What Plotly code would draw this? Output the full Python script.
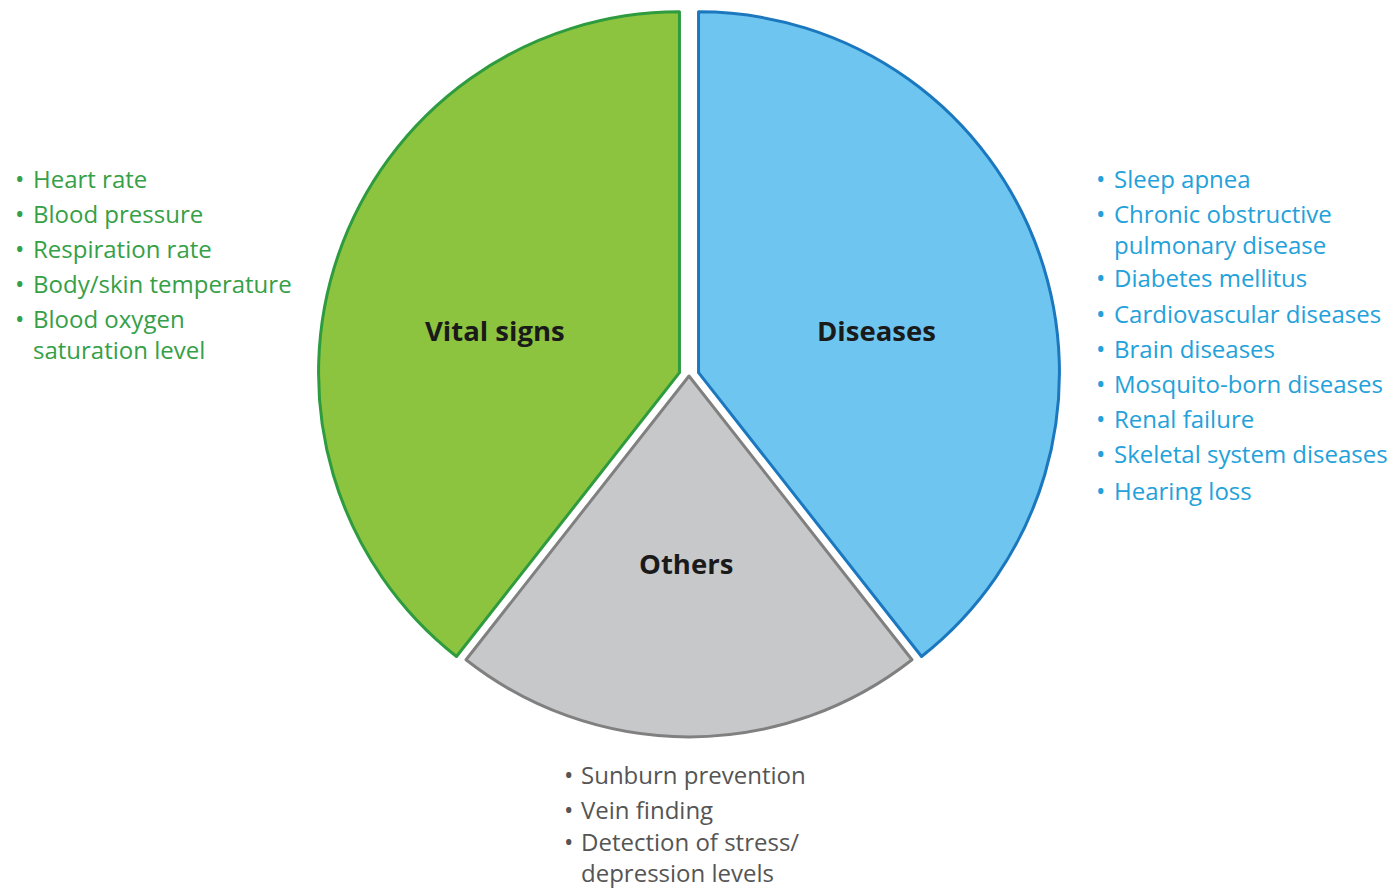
import plotly.graph_objects as go

W, H = 1393, 889

# ---- data ----
categories = ["Diseases", "Others", "Vital signs"]
values = [39.4, 21.2, 39.4]
pulls = [0.028, 0.0, 0.028]
fill_colors = ["#6EC6F0", "#C7C8CA", "#8DC43F"]
line_colors = ["#1B78BE", "#808080", "#2E9B3F"]

vital_items = ["Heart rate", "Blood pressure", "Respiration rate",
               "Body/skin temperature", "Blood oxygen<br>saturation level"]
disease_items = ["Sleep apnea", "Chronic obstructive<br>pulmonary disease",
                 "Diabetes mellitus", "Cardiovascular diseases", "Brain diseases",
                 "Mosquito-born diseases", "Renal failure",
                 "Skeletal system diseases", "Hearing loss"]
other_items = ["Sunburn prevention", "Vein finding",
               "Detection of stress/<br>depression levels"]

# ---- layout geometry (pixels) ----
cx, cy, rr = 689, 376, 371
dom_x = [(cx - rr) / W, (cx + rr) / W]
dom_y = [(H - cy - rr) / H, (H - cy + rr) / H]

fig = go.Figure(go.Pie(
    labels=categories, values=values, sort=False, direction="clockwise",
    rotation=0, pull=pulls, textinfo="none", hoverinfo="label",
    marker=dict(colors=fill_colors, line=dict(color=line_colors, width=3)),
    domain=dict(x=dom_x, y=dom_y), showlegend=False,
))

FONT = "'Open Sans', Lato, sans-serif"
ann = []

def px(x):
    return x / W

def py(y):
    return 1 - y / H

# slice labels
label_pos = {"Vital signs": (495, 331), "Diseases": (876, 331), "Others": (686, 563)}
for c in categories:
    x, y = label_pos[c]
    ann.append(dict(x=px(x), y=py(y), xref="paper", yref="paper", text="<b>%s</b>" % c,
                    showarrow=False, xanchor="center", yanchor="middle",
                    font=dict(family=FONT, size=27.5, color="#1A1A1A")))

def add_list(items, ys, xb, xt, color):
    for it, y in zip(items, ys):
        ann.append(dict(x=px(xb), y=py(y + 1), xref="paper", yref="paper", text="•",
                        showarrow=False, xanchor="center", yanchor="middle",
                        font=dict(family=FONT, size=25, color=color)))
        ann.append(dict(x=px(xt), y=py(y - 17), xref="paper", yref="paper", text=it,
                        showarrow=False, xanchor="left", yanchor="top", align="left",
                        font=dict(family=FONT, size=24, color=color)))

add_list(vital_items, [177, 212, 247, 282, 317], 19, 31, "#35A047")
add_list(disease_items, [177, 212, 276, 312, 347, 382, 417, 452, 489], 1100, 1112, "#23A1DA")
add_list(other_items, [773, 808, 840], 568, 579, "#555555")

fig.update_layout(width=W, height=H, margin=dict(l=0, r=0, t=0, b=0),
                  paper_bgcolor="white", plot_bgcolor="white", annotations=ann)

fig.write_html("out.html", config={"displayModeBar": False},
               post_script="document.body.style.margin='0';")
